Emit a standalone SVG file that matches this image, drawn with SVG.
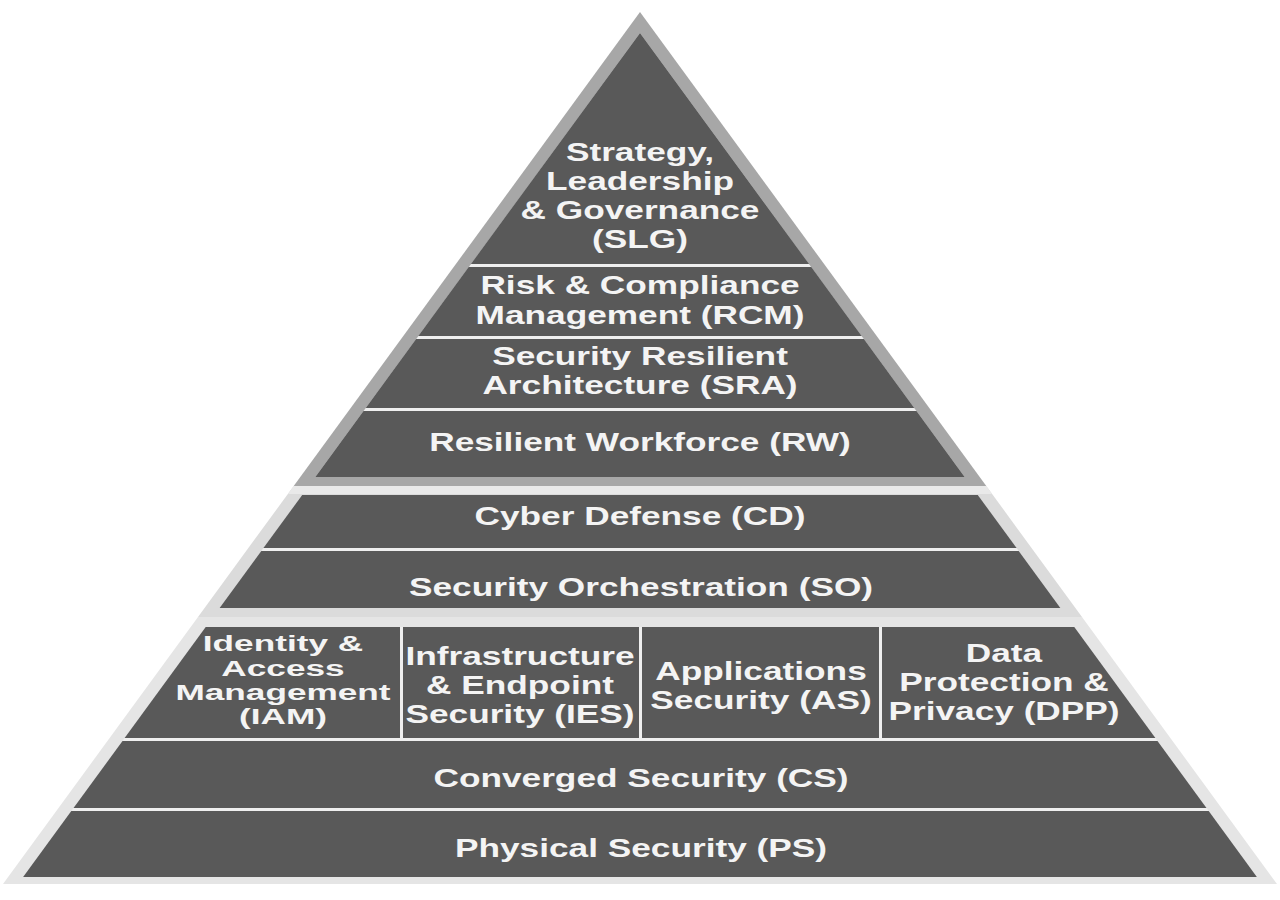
<svg xmlns="http://www.w3.org/2000/svg" width="1280" height="900" viewBox="0 0 1280 900">
<style>
.dark{fill:#595959}
.gap{fill:#efefef}
.t{font-family:"Liberation Sans",Arial,sans-serif;font-weight:bold;font-size:25px;fill:#f4f4f4;text-anchor:middle}
.s{font-size:22px}
</style>
<rect width="1280" height="900" fill="#ffffff"/>
<g id="frame">
<polygon points="198,617 1082,617 1277,884 3,884" fill="#e5e5e5"/>
<polygon points="293.7,486 986.3,486 1082,617 198,617" fill="#dbdbdb"/>
<polygon points="293.7,486 986.3,486 992.1,494 287.9,494" fill="#e9e9e9"/>
<polygon points="640,12 986.3,486 293.7,486" fill="#a7a7a7"/>
<polygon class="gap" points="640,33 964.7,477 315.3,477"/>
<polygon class="gap" points="302.2,495 977.8,495 1060.4,608 219.6,608"/>
<polygon class="gap" points="205.7,627 1074.3,627 1256.9,877 23.1,877"/>
</g>
<g id="slg">
<polygon class="dark" points="640,33 809.1,264 470.9,264"/>
<g transform="translate(640,0) scale(1.41,1)">
<text class="t" x="0" y="161">Strategy,</text>
<text class="t" x="0" y="190">Leadership</text>
<text class="t" x="0" y="219">&amp; Governance</text>
<text class="t" x="0" y="248">(SLG)</text>
</g>
</g>
<g id="rcm">
<polygon class="dark" points="468.7,267 811.3,267 861.7,336 418.3,336"/>
<g transform="translate(640,0) scale(1.41,1)">
<text class="t" x="0" y="294">Risk &amp; Compliance</text>
<text class="t" x="0" y="324">Management (RCM)</text>
</g>
</g>
<g id="sra">
<polygon class="dark" points="416.1,339 863.9,339 914.3,408 365.7,408"/>
<g transform="translate(640,0) scale(1.41,1)">
<text class="t" x="0" y="365">Security Resilient</text>
<text class="t" x="0" y="394">Architecture (SRA)</text>
</g>
</g>
<g id="rw">
<polygon class="dark" points="363.5,411 916.5,411 964.7,477 315.3,477"/>
<g transform="translate(640,0) scale(1.41,1)">
<text class="t" x="0" y="451">Resilient Workforce (RW)</text>
</g>
</g>
<g id="cd">
<polygon class="dark" points="302.2,495 977.8,495 1016.6,548 263.4,548"/>
<g transform="translate(640,0) scale(1.41,1)">
<text class="t" x="0" y="525">Cyber Defense (CD)</text>
</g>
</g>
<g id="so">
<polygon class="dark" points="261.3,551 1018.7,551 1060.4,608 219.6,608"/>
<g transform="translate(641,0) scale(1.41,1)">
<text class="t" x="0" y="596">Security Orchestration (SO)</text>
</g>
</g>
<g id="iam">
<polygon class="dark" points="205.7,627 400,627 400,738 124.6,738"/>
<g transform="translate(283,0) scale(1.6,1)">
<text class="t s" x="0" y="651">Identity &amp;</text>
<text class="t s" x="0" y="676">Access</text>
<text class="t s" x="0" y="700">Management</text>
<text class="t s" x="0" y="724">(IAM)</text>
</g>
</g>
<g id="ies">
<polygon class="dark" points="403,627 639,627 639,738 403,738"/>
<g transform="translate(520,0) scale(1.41,1)">
<text class="t" x="0" y="665">Infrastructure</text>
<text class="t" x="0" y="694">&amp; Endpoint</text>
<text class="t" x="0" y="723">Security (IES)</text>
</g>
</g>
<g id="as">
<polygon class="dark" points="642,627 879,627 879,738 642,738"/>
<g transform="translate(761,0) scale(1.41,1)">
<text class="t" x="0" y="680">Applications</text>
<text class="t" x="0" y="709">Security (AS)</text>
</g>
</g>
<g id="dpp">
<polygon class="dark" points="882,627 1074.3,627 1155.4,738 882,738"/>
<g transform="translate(1004,0) scale(1.41,1)">
<text class="t" x="0" y="662">Data</text>
<text class="t" x="0" y="691">Protection &amp;</text>
<text class="t" x="0" y="720">Privacy (DPP)</text>
</g>
</g>
<g id="cs">
<polygon class="dark" points="122.5,741 1157.5,741 1206.5,808 73.5,808"/>
<g transform="translate(641,0) scale(1.41,1)">
<text class="t" x="0" y="787">Converged Security (CS)</text>
</g>
</g>
<g id="ps">
<polygon class="dark" points="71.3,811 1208.7,811 1256.9,877 23.1,877"/>
<g transform="translate(641,0) scale(1.41,1)">
<text class="t" x="0" y="857">Physical Security (PS)</text>
</g>
</g>
<g id="connectors"/>
</svg>
